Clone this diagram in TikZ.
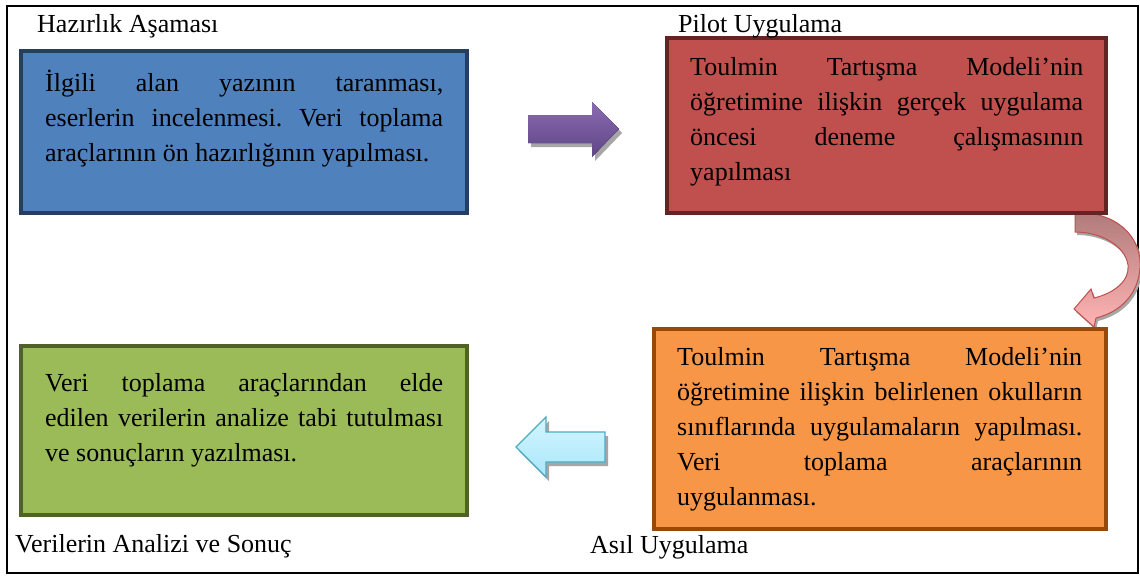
\documentclass[tikz,border=0pt]{standalone}
\usepackage{fontspec}
\setmainfont{Liberation Serif}
\definecolor{prepfill}{HTML}{4F81BD}
\definecolor{prepline}{HTML}{243F60}
\definecolor{pilotfill}{HTML}{C0504D}
\definecolor{pilotline}{HTML}{632523}
\definecolor{mainfill}{HTML}{F79646}
\definecolor{mainline}{HTML}{984807}
\definecolor{analysisfill}{HTML}{9BBB59}
\definecolor{analysisline}{HTML}{4F6228}
\definecolor{purpletop}{HTML}{8A6BB2}
\definecolor{purplebottom}{HTML}{5E4585}
\definecolor{cyanline}{HTML}{4BACC6}
\definecolor{cyantop}{HTML}{D4F5FF}
\definecolor{cyanbottom}{HTML}{A9E7FA}
\definecolor{rosetop}{HTML}{B07A7A}
\definecolor{rosebottom}{HTML}{FFB4B4}
\parindent=0pt
\hyphenpenalty=10000
\exhyphenpenalty=10000
\tolerance=10000
\frenchspacing

\begin{document}
\begin{tikzpicture}[x=1pt,y=-1pt,
stage/.style={draw, line width=4pt, anchor=north west},
stagetext/.style={anchor=base west, inner sep=0pt, align=justify, font=\fontsize{26}{35}\selectfont},
caption/.style={anchor=base west, inner sep=0pt, font=\fontsize{26}{35}\selectfont},
arrowshadow/.style={fill=black!35}
]
\useasboundingbox (0,0) rectangle (1140,576);
\draw[line width=2pt] (7,6) rectangle (1138,573);

\fill[arrowshadow, shift={(2,3)}] (1075,212) .. controls (1115,212) and (1142,235) .. (1140,268)
  .. controls (1138,295) and (1120,312) .. (1096,318) -- (1094,327) -- (1074,309) -- (1091,289)
  -- (1094,298) .. controls (1115,293) and (1130,280) .. (1128,265)
  .. controls (1125,245) and (1100,232) .. (1075,232) -- cycle;
\draw[pilotfill, line width=1pt, top color=rosetop, bottom color=rosebottom]
  (1075,212) .. controls (1115,212) and (1142,235) .. (1140,268)
  .. controls (1138,295) and (1120,312) .. (1096,318) -- (1094,327) -- (1074,309) -- (1091,289)
  -- (1094,298) .. controls (1115,293) and (1130,280) .. (1128,265)
  .. controls (1125,245) and (1100,232) .. (1075,232) -- cycle;

\node[stage, fill=prepfill, draw=prepline, minimum width=446pt, minimum height=162pt] (prep) at (19,49) {};
\node[stagetext, text width=398pt] (preptext) at (45,91) {İlgili alan yazının taranması,\linebreak eserlerin incelenmesi. Veri toplama\linebreak araçlarının ön hazırlığının yapılması.};
\node[caption] (prepcap) at (37,32) {Hazırlık Aşaması};

\node[stage, fill=pilotfill, draw=pilotline, minimum width=439pt, minimum height=175pt] (pilot) at (665,36) {};
\node[stagetext, text width=393pt] (pilottext) at (690,75) {Toulmin Tartışma Modeli’nin\linebreak öğretimine ilişkin gerçek uygulama\linebreak öncesi deneme çalışmasının\linebreak yapılması};
\node[caption] (pilotcap) at (678,32) {Pilot Uygulama};

\node[stage, fill=mainfill, draw=mainline, minimum width=452pt, minimum height=200pt] (main) at (652,327) {};
\node[stagetext, text width=405pt] (maintext) at (677,365) {Toulmin Tartışma Modeli’nin\linebreak öğretimine ilişkin belirlenen okulların\linebreak sınıflarında uygulamaların yapılması.\linebreak Veri toplama araçlarının\linebreak uygulanması.};
\node[caption] (maincap) at (590,553) {Asıl Uygulama};

\node[stage, fill=analysisfill, draw=analysisline, minimum width=446pt, minimum height=169pt] (analysis) at (19,344) {};
\node[stagetext, text width=398pt] (analysistext) at (45,391) {Veri toplama araçlarından elde\linebreak edilen verilerin analize tabi tutulması\linebreak ve sonuçların yazılması.};
\node[caption] (analysiscap) at (15,552) {Verilerin Analizi ve Sonuç};

\fill[arrowshadow, shift={(3,4)}] (528,115) -- (592,115) -- (592,102) -- (619,129) -- (592,157) -- (592,143) -- (528,143) -- cycle;
\fill[top color=purpletop, bottom color=purplebottom] (528,115) -- (592,115) -- (592,102) -- (619,129) -- (592,157) -- (592,143) -- (528,143) -- cycle;

\fill[arrowshadow, shift={(3,4)}] (605,432) -- (546,432) -- (546,417) -- (516,447) -- (546,477) -- (546,462) -- (605,462) -- cycle;
\draw[cyanline, line width=1.2pt, top color=cyantop, bottom color=cyanbottom] (605,432) -- (546,432) -- (546,417) -- (516,447) -- (546,477) -- (546,462) -- (605,462) -- cycle;
\end{tikzpicture}
\end{document}
